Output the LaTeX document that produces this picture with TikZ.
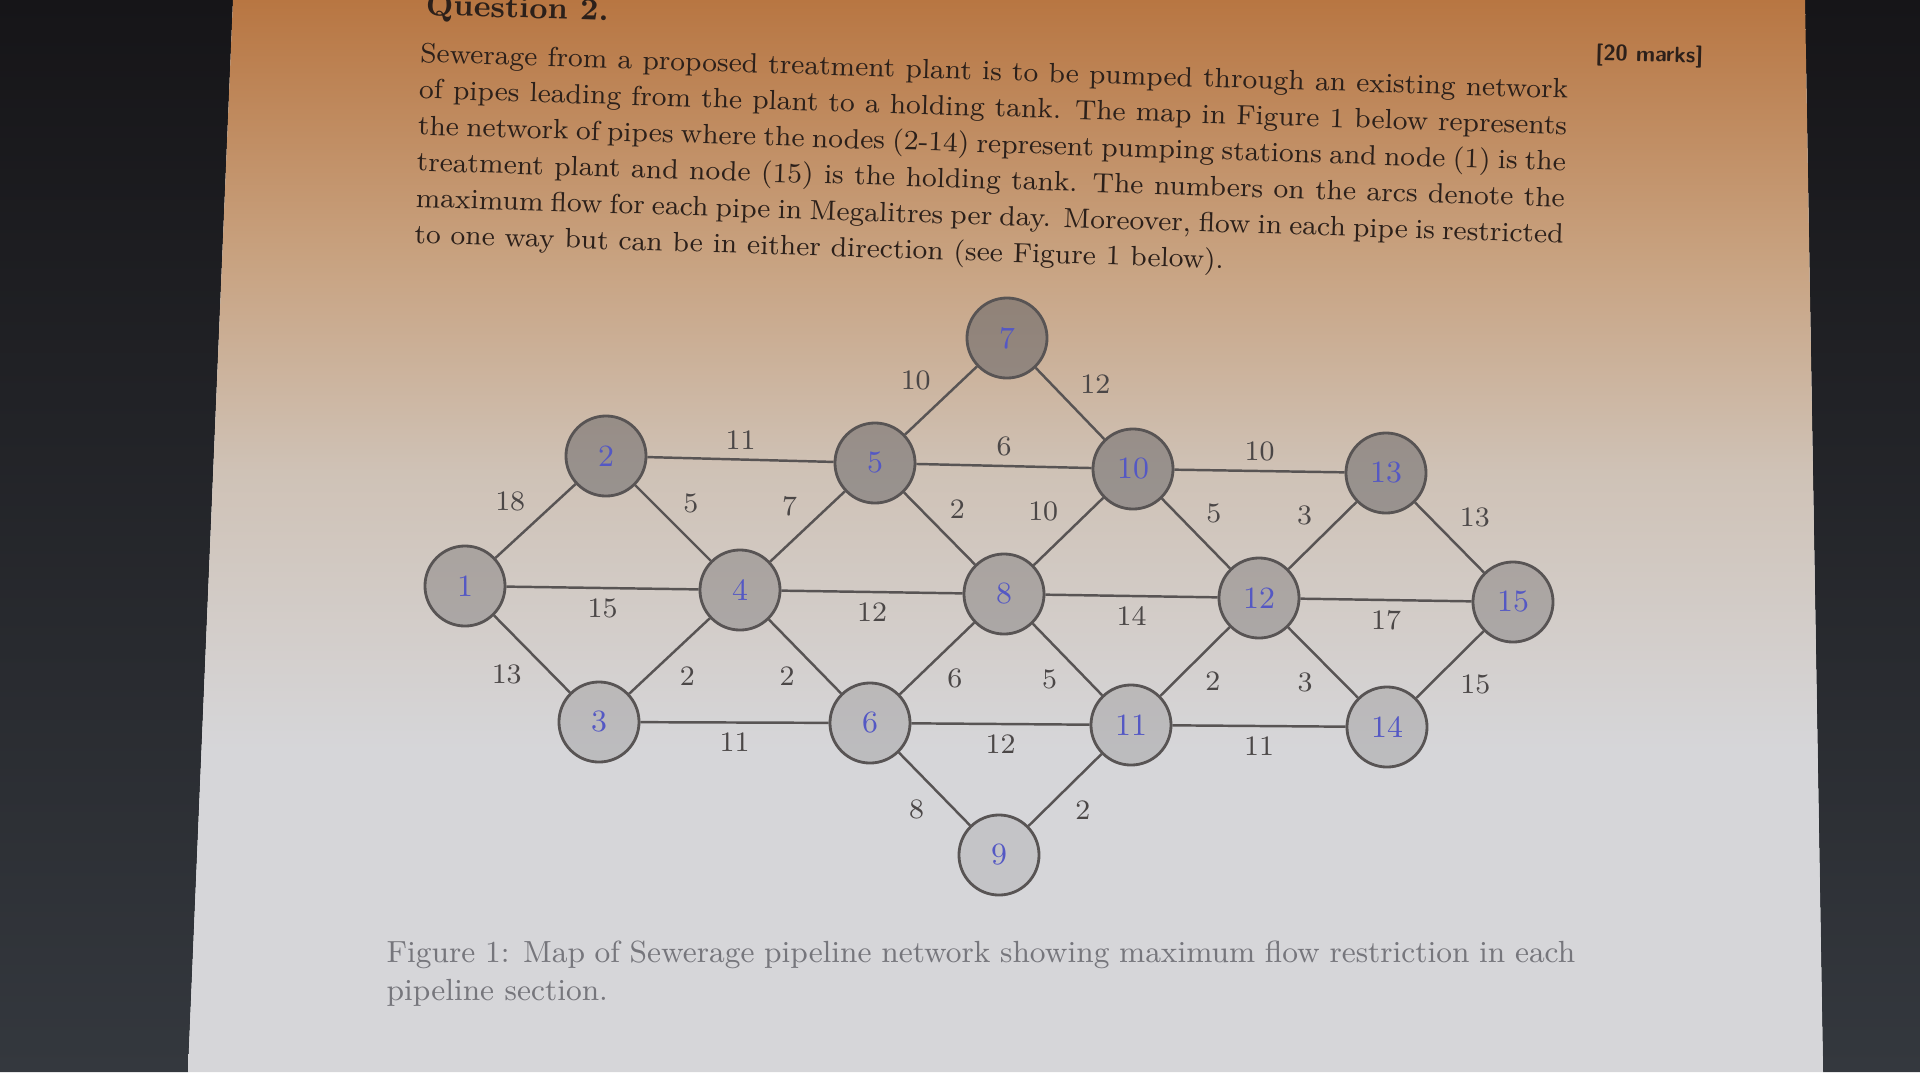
\documentclass[tikz,border=0pt]{standalone}
\usepackage{tikz}
\usetikzlibrary{positioning}
\usetikzlibrary{calc}
\definecolor{bezel}{RGB}{22,21,24}
\definecolor{bezellow}{RGB}{52,56,62}
\definecolor{screentop}{RGB}{184,118,66}
\definecolor{screenwarm}{RGB}{200,162,128}
\definecolor{screenmid}{RGB}{207,194,182}
\definecolor{screenlow}{RGB}{214,214,217}
\definecolor{ink}{RGB}{44,32,26}
\definecolor{pipeink}{RGB}{88,84,84}
\definecolor{numink}{RGB}{84,88,196}
\definecolor{capink}{RGB}{118,118,124}
\definecolor{stationfill}{RGB}{108,106,108}
% only the band 25bp..75bp of a shading is shown in the path
\pgfdeclareverticalshading{screenglow}{100bp}{color(0bp)=(screenlow); color(40bp)=(screenlow); color(53bp)=(screenmid); color(63bp)=(screenwarm); color(75bp)=(screentop); color(100bp)=(screentop)}
\tikzstyle{station}=
[circle,draw=pipeink,line width=0.8pt,fill=stationfill,fill opacity=0.4,text opacity=1,
minimum size=0.8cm,inner sep=0pt,text=numink,font=\fontsize{8.8}{10}\selectfont]
\tikzstyle{pipe}=
[draw=pipeink,line width=0.7pt]
\tikzstyle{flow}=
[font=\fontsize{8}{9}\selectfont,text=pipeink!85!black,inner sep=2.6pt]
\newcommand{\jline}[1]{\hbox to 326.6pt{#1}}

\begin{document}
\begin{tikzpicture}[x=0.01cm,y=-0.01cm]
\useasboundingbox (0,0) rectangle (1920,1072);
\clip (0,0) rectangle (1920,1072);
% screen and bezel
\shade[top color=bezel,bottom color=bezellow] (0,0)--(233,0)--(188,1072)--(0,1072)--cycle;
\shade[top color=bezel,bottom color=bezellow] (1805,0)--(1920,0)--(1920,1072)--(1823,1072)--cycle;
\shade[shading=screenglow] (233,0)--(1805,0)--(1823,1072)--(188,1072)--cycle;
% question text
\node (qhead)
[anchor=base west,
inner sep=0pt,
rotate=-1.8,
text=ink,
font=\fontsize{8.8}{10}\selectfont\bfseries]
at (425,15) {Question 2.};
\node (marks)
[anchor=base west,
inner sep=0pt,
rotate=-1.5,
text=ink,
font=\fontsize{6.3}{7}\selectfont\sffamily\bfseries]
at (1595,60) {[20 marks]};
\node (para)
[anchor=north west,
inner sep=0pt,
rotate=-1.8,
text=ink,
font=\fontsize{7.9}{10}\selectfont]
at (420,42)
{\vbox{\baselineskip=10.3pt
\jline{Sewerage from a proposed treatment plant is to be pumped through an existing network}
\jline{of pipes leading from the plant to a holding tank. The map in Figure 1 below represents}
\jline{the network of pipes where the nodes (2-14) represent pumping stations and node (1) is the}
\jline{treatment plant and node (15) is the holding tank. The numbers on the arcs denote the}
\jline{maximum flow for each pipe in Megalitres per day. Moreover, flow in each pipe is restricted}
\hbox{to one way but can be in either direction (see Figure 1 below).}}};
% stations
\node (n1) [station,fill opacity=0.38] at (465,586) {1};
\node (n2) [station,fill opacity=0.55] at (606,456) {2};
\node (n3) [station,fill opacity=0.24] at (599,722) {3};
\node (n4) [station,fill opacity=0.38] at (740,590) {4};
\node (n5) [station,fill opacity=0.55] at (875,463) {5};
\node (n6) [station,fill opacity=0.24] at (870,723) {6};
\node (n7) [station,fill opacity=0.6] at (1007,338) {7};
\node (n8) [station,fill opacity=0.38] at (1004,594) {8};
\node (n9) [station,fill opacity=0.16] at (999,855) {9};
\node (n10) [station,fill opacity=0.55] at (1133,469) {10};
\node (n11) [station,fill opacity=0.24] at (1131,725) {11};
\node (n12) [station,fill opacity=0.38] at (1259,598) {12};
\node (n13) [station,fill opacity=0.55] at (1386,473) {13};
\node (n14) [station,fill opacity=0.24] at (1387,727) {14};
\node (n15) [station,fill opacity=0.38] at (1513,602) {15};
% pipes
\draw[pipe](n1)--node[flow,above left]{18}(n2);
\draw[pipe](n1)--node[flow,below]{15}(n4);
\draw[pipe](n1)--node[flow,below left]{13}(n3);
\draw[pipe](n2)--node[flow,above]{11}(n5);
\draw[pipe](n2)--node[flow,above right]{5}(n4);
\draw[pipe](n3)--node[flow,below right]{2}(n4);
\draw[pipe](n3)--node[flow,below]{11}(n6);
\draw[pipe](n4)--node[flow,above left]{7}(n5);
\draw[pipe](n4)--node[flow,below]{12}(n8);
\draw[pipe](n4)--node[flow,below left]{2}(n6);
\draw[pipe](n5)--node[flow,above left]{10}(n7);
\draw[pipe](n5)--node[flow,above]{6}(n10);
\draw[pipe](n5)--node[flow,above right]{2}(n8);
\draw[pipe](n6)--node[flow,below right]{6}(n8);
\draw[pipe](n6)--node[flow,below]{12}(n11);
\draw[pipe](n6)--node[flow,below left]{8}(n9);
\draw[pipe](n7)--node[flow,above right]{12}(n10);
\draw[pipe](n8)--node[flow,above left]{10}(n10);
\draw[pipe](n8)--node[flow,below]{14}(n12);
\draw[pipe](n8)--node[flow,below left]{5}(n11);
\draw[pipe](n9)--node[flow,below right]{2}(n11);
\draw[pipe](n10)--node[flow,above]{10}(n13);
\draw[pipe](n10)--node[flow,above right]{5}(n12);
\draw[pipe](n11)--node[flow,below right]{2}(n12);
\draw[pipe](n11)--node[flow,below]{11}(n14);
\draw[pipe](n12)--node[flow,above left]{3}(n13);
\draw[pipe](n12)--node[flow,below]{17}(n15);
\draw[pipe](n12)--node[flow,below left]{3}(n14);
\draw[pipe](n13)--node[flow,above right]{13}(n15);
\draw[pipe](n14)--node[flow,below right]{15}(n15);
% caption
\node (caption)
[anchor=north west,
inner sep=0pt,
text width=338pt,
align=justify,
text=capink,
font=\fontsize{8.7}{10.8}\selectfont]
at (386,940)
{Figure 1: Map of Sewerage pipeline network showing maximum flow restriction in each\linebreak
pipeline section.};
\end{tikzpicture}
\end{document}
